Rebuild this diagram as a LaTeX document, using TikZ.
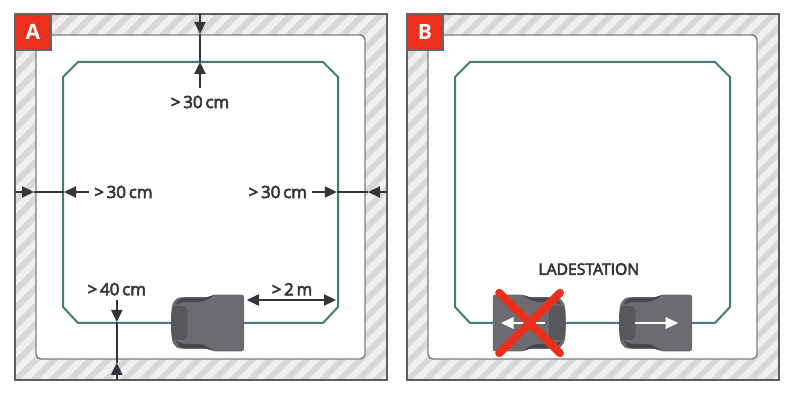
\documentclass[tikz,border=0pt]{standalone}
\usepackage{fontspec}
\setmainfont{Open Sans}
\newfontfamily\labelfont{Open Sans}[FakeBold=3.5]
\usetikzlibrary{arrows.meta}
\definecolor{wallgrey}{HTML}{5E5E60}
\definecolor{hatchgrey}{HTML}{D8D8D8}
\definecolor{hatchlight}{HTML}{F0F0F0}
\definecolor{wiregreen}{HTML}{3F7F76}
\definecolor{tagred}{HTML}{EC2F1C}
\definecolor{robotgrey}{HTML}{6C6C70}
\definecolor{robotdark}{HTML}{47474B}
\definecolor{robotmid}{HTML}{58585C}
\definecolor{dimgrey}{HTML}{34343A}
\tikzset{
  dimarrow/.style={draw=dimgrey, line width=0.35mm, -{Triangle[length=3mm,width=2.8mm]}},
  dimline/.style={draw=dimgrey, line width=0.35mm},
  dimlabel/.style={text=dimgrey, font=\fontsize{12}{14}\selectfont\labelfont, inner sep=0pt},
  tagbox/.style={fill=tagred, draw=black!60, line width=0.3mm, minimum size=9mm, inner sep=0pt, text=white, font=\fontsize{15}{17}\selectfont\bfseries},
  whitearrow/.style={draw=white, line width=0.6mm, -{Triangle[length=3.2mm,width=2.8mm]}},
  panel/.pic={
    \fill [hatchlight] (0.375, 0.89) rectangle (9.675, 10.05);
    \begin{scope}
      \clip (0.375, 0.89) rectangle (9.675, 10.05);
      \foreach \s in {-9.5, -9.05, ..., 10.5} {
        \draw [hatchgrey, line width=1.5mm] (\s, 0) -- ++(11, 11);
      }
    \end{scope}
    \draw [wallgrey, line width=0.45mm] (0.375, 0.89) rectangle (9.675, 10.05);
    \draw [wallgrey!80, line width=0.35mm, fill=white, rounded corners=1.2mm] (0.9, 1.425) rectangle (9.125, 9.525);
    \draw [wiregreen, line width=0.5mm] (1.95, 2.325) -- (1.575, 2.725) -- (1.575, 8.475) -- (1.95, 8.85)
      -- (8.075, 8.85) -- (8.45, 8.475) -- (8.45, 2.725) -- (8.075, 2.325) -- cycle;
  },
  robot/.pic={
    \fill [robotgrey, rounded corners=0.6mm] (0.91, 0.71) -- (0.25, 0.71) .. controls (0.1, 0.71) and (0.05, 0.64) .. (-0.1, 0.64)
      -- (-0.6, 0.64) .. controls (-0.85, 0.64) and (-0.91, 0.45) .. (-0.91, 0.15) -- (-0.91, -0.15)
      .. controls (-0.91, -0.45) and (-0.85, -0.64) .. (-0.6, -0.64) -- (-0.1, -0.64)
      .. controls (0.05, -0.64) and (0.1, -0.71) .. (0.25, -0.71) -- (0.91, -0.71) -- cycle;
    \fill [robotdark] (-0.8, 0.45) .. controls (-0.72, 0.6) and (-0.65, 0.64) .. (-0.55, 0.64) -- (-0.1, 0.64)
      .. controls (0, 0.64) and (0.08, 0.67) .. (0.16, 0.7) .. controls (0, 0.58) and (-0.1, 0.53) .. (-0.2, 0.53)
      -- (-0.5, 0.53) .. controls (-0.6, 0.53) and (-0.7, 0.5) .. (-0.8, 0.45) -- cycle;
    \fill [robotdark] (-0.8, -0.45) .. controls (-0.72, -0.6) and (-0.65, -0.64) .. (-0.55, -0.64) -- (-0.1, -0.64)
      .. controls (0, -0.64) and (0.08, -0.67) .. (0.16, -0.7) .. controls (0, -0.58) and (-0.1, -0.53) .. (-0.2, -0.53)
      -- (-0.5, -0.53) .. controls (-0.6, -0.53) and (-0.7, -0.5) .. (-0.8, -0.45) -- cycle;
    \fill [robotmid, rounded corners=0.3mm] (-0.87, 0.42) -- (-0.56, 0.42) -- (-0.5, 0.34) -- (-0.5, -0.34) -- (-0.56, -0.42) -- (-0.87, -0.42) -- (-0.91, -0.15) -- (-0.91, 0.15) -- cycle;
  }
}
\begin{document}
\begin{tikzpicture}
  \useasboundingbox (0, 0) rectangle (20, 10.4);

  % left panel
  \pic at (0, 0) {panel};
  \node [tagbox] (tagA) at (0.825, 9.6) {A};
  \pic at (5.19, 2.325) {robot};

  \coordinate (topwall) at (5, 10.05);
  \coordinate (toptip) at (5, 9.55);
  \coordinate (topwire) at (5, 8.85);
  \node [dimlabel] (toplabel) at (5, 7.85) {>\,30\,cm};
  \coordinate (topend) at (5, 8.2);
  \draw [dimarrow] (topwall) -- (toptip);
  \draw [dimline] (toptip) -- (topwire);
  \draw [dimarrow] (topend) -- (topwire);

  \coordinate (leftwall) at (0.375, 5.6);
  \coordinate (lefttip) at (0.85, 5.6);
  \coordinate (leftwire) at (1.6, 5.6);
  \node [dimlabel, anchor=west] (leftlabel) at (2.35, 5.6) {>\,30\,cm};
  \draw [dimarrow] (leftwall) -- (lefttip);
  \draw [dimline] (lefttip) -- (leftwire);
  \draw [dimarrow] (leftlabel.west) ++(-0.12, 0) -- (leftwire);

  \coordinate (rightwall) at (9.675, 5.6);
  \coordinate (righttip) at (9.2, 5.6);
  \coordinate (rightwire) at (8.42, 5.6);
  \node [dimlabel, anchor=east] (rightlabel) at (7.68, 5.6) {>\,30\,cm};
  \draw [dimarrow] (rightwall) -- (righttip);
  \draw [dimline] (righttip) -- (rightwire);
  \draw [dimarrow] (rightlabel.east) ++(0.12, 0) -- (rightwire);

  \node [dimlabel] (botlabel) at (2.92, 3.17) {>\,40\,cm};
  \coordinate (botend) at (2.92, 2.9);
  \coordinate (botwire) at (2.92, 2.35);
  \coordinate (botwall) at (2.92, 0.89);
  \coordinate (bottip) at (2.92, 1.33);
  \draw [dimarrow] (botend) -- (botwire);
  \draw [dimline] (botwire) -- (bottip);
  \draw [dimarrow] (botwall) -- (bottip);

  \node [dimlabel] (gaplabel) at (7.3, 3.17) {>\,2\,m};
  \coordinate (gapleft) at (6.17, 2.9);
  \coordinate (gapright) at (8.4, 2.9);
  \draw [dimarrow, {Triangle[length=3mm,width=2.8mm]}-{Triangle[length=3mm,width=2.8mm]}] (gapleft) -- (gapright);

  % right panel
  \pic at (9.8, 0) {panel};
  \node [tagbox] (tagB) at (10.625, 9.6) {B};
  \node [dimlabel, font=\fontsize{11.2}{13}\selectfont\labelfont] (station) at (14.72, 3.67) {LADESTATION};

  \pic [xscale=-1] at (13.23, 2.325) {robot};
  \coordinate (badtail) at (13.62, 2.325);
  \coordinate (badhead) at (12.52, 2.325);
  \draw [whitearrow] (badtail) -- (badhead);
  \coordinate (crossa) at (12.48, 3.08);
  \coordinate (crossb) at (14, 1.57);
  \coordinate (crossc) at (14, 3.08);
  \coordinate (crossd) at (12.48, 1.57);
  \draw [tagred, line width=2mm, line cap=round] (crossa) -- (crossb);
  \draw [tagred, line width=2mm, line cap=round] (crossc) -- (crossd);

  \pic at (16.39, 2.325) {robot};
  \coordinate (goodtail) at (15.88, 2.325);
  \coordinate (goodhead) at (16.96, 2.325);
  \draw [whitearrow] (goodtail) -- (goodhead);
\end{tikzpicture}
\end{document}
